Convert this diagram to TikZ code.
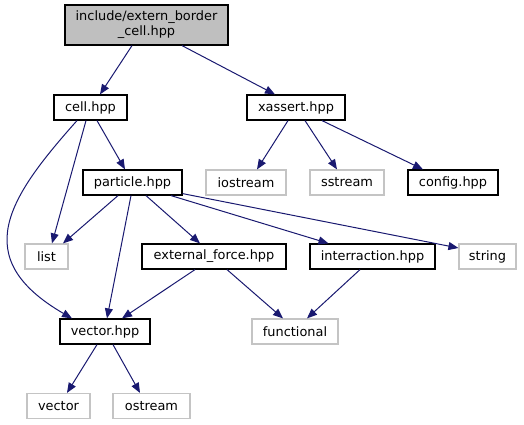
\documentclass[tikz,border=0pt]{standalone}
\usepackage{fontspec}
\setmainfont{DejaVu Sans}
\definecolor{edgecolor}{RGB}{25,25,112}
\definecolor{rootfill}{RGB}{191,191,191}
\definecolor{extborder}{RGB}{196,196,196}
\usetikzlibrary{arrows.meta}

\begin{document}
\begin{tikzpicture}[x=1pt, y=-1pt,
  every node/.style={font=\fontsize{12.9}{15}\selectfont, inner sep=0pt, minimum height=25pt},
  docnode/.style={draw=black, line width=1.2pt},
  extnode/.style={draw=extborder, line width=1.2pt},
  dep/.style={draw=edgecolor, line width=1pt, -{Triangle[length=10pt, width=8pt]}}]
  \useasboundingbox (0,0) rectangle (524,425);

  % Root file
  \node[docnode, fill=rootfill, minimum width=163pt, minimum height=40pt, align=center] (ROOT) at (146.5, 25) {include/extern\_border\\\_cell.hpp};

  % Second row
  \node[docnode, minimum width=73pt] (CELL) at (90.5, 107.5) {cell.hpp};
  \node[docnode, minimum width=98pt] (XASSERT) at (296, 107.5) {xassert.hpp};

  % Third row
  \node[docnode, minimum width=99pt] (PARTICLE) at (132.5, 182.5) {particle.hpp};
  \node[extnode, minimum width=80pt] (IOSTREAM) at (246, 182.5) {iostream};
  \node[extnode, minimum width=74pt] (SSTREAM) at (347, 182.5) {sstream};
  \node[docnode, minimum width=90pt] (CONFIG) at (453, 182.5) {config.hpp};

  % Fourth row
  \node[extnode, minimum width=43pt] (LIST) at (46.5, 256.5) {list};
  \node[docnode, minimum width=144pt] (EXTFORCE) at (214, 256.5) {external\_force.hpp};
  \node[docnode, minimum width=125pt] (INTERR) at (372.5, 256.5) {interraction.hpp};
  \node[extnode, minimum width=57pt] (STRING) at (487.5, 256.5) {string};

  % Fifth row
  \node[docnode, minimum width=90pt] (VECHPP) at (105, 331.5) {vector.hpp};
  \node[extnode, minimum width=86pt] (FUNCTIONAL) at (295, 331.5) {functional};

  % Last row
  \node[extnode, minimum width=63pt] (VECTOR) at (58.5, 406) {vector};
  \node[extnode, minimum width=77pt] (OSTREAM) at (151.5, 406) {ostream};

  % Includes
  \draw[dep] ([xshift=-14.5pt]ROOT.south) -- ([xshift=9.5pt]CELL.north);
  \draw[dep] ([xshift=35.5pt]ROOT.south) -- ([xshift=-21pt]XASSERT.north);
  \draw[dep] ([xshift=6.5pt]CELL.south) -- ([xshift=-7.5pt]PARTICLE.north);
  \draw[dep] ([xshift=-4.5pt]CELL.south) -- ([xshift=5.5pt]LIST.north);
  \draw[dep] ([xshift=-13.5pt]CELL.south) .. controls (8,198) and (-32,258) .. ([xshift=-33pt]VECHPP.north);
  \draw[dep] ([xshift=-8pt]XASSERT.south) -- ([xshift=11pt]IOSTREAM.north);
  \draw[dep] ([xshift=9pt]XASSERT.south) -- ([xshift=-10pt]SSTREAM.north);
  \draw[dep] ([xshift=26pt]XASSERT.south) -- ([xshift=-30pt]CONFIG.north);
  \draw[dep] ([xshift=-14.5pt]PARTICLE.south) -- ([xshift=16.5pt]LIST.north);
  \draw[dep] ([xshift=-1.5pt]PARTICLE.south) -- ([xshift=2pt]VECHPP.north);
  \draw[dep] ([xshift=13.5pt]PARTICLE.south) -- ([xshift=-14pt]EXTFORCE.north);
  \draw[dep] ([xshift=38.5pt]PARTICLE.south) -- ([xshift=-44pt]INTERR.north);
  \draw[dep] ([yshift=2pt]PARTICLE.south east) -- ([yshift=8.5pt]STRING.west);
  \draw[dep] ([xshift=-19pt]EXTFORCE.south) -- ([xshift=17pt]VECHPP.north);
  \draw[dep] ([xshift=13pt]EXTFORCE.south) -- ([xshift=-12pt]FUNCTIONAL.north);
  \draw[dep] ([xshift=-12.5pt]INTERR.south) -- ([xshift=12pt]FUNCTIONAL.north);
  \draw[dep] ([xshift=-8pt]VECHPP.south) -- ([xshift=8.5pt]VECTOR.north);
  \draw[dep] ([xshift=8pt]VECHPP.south) -- ([xshift=-11.5pt]OSTREAM.north);
\end{tikzpicture}
\end{document}
